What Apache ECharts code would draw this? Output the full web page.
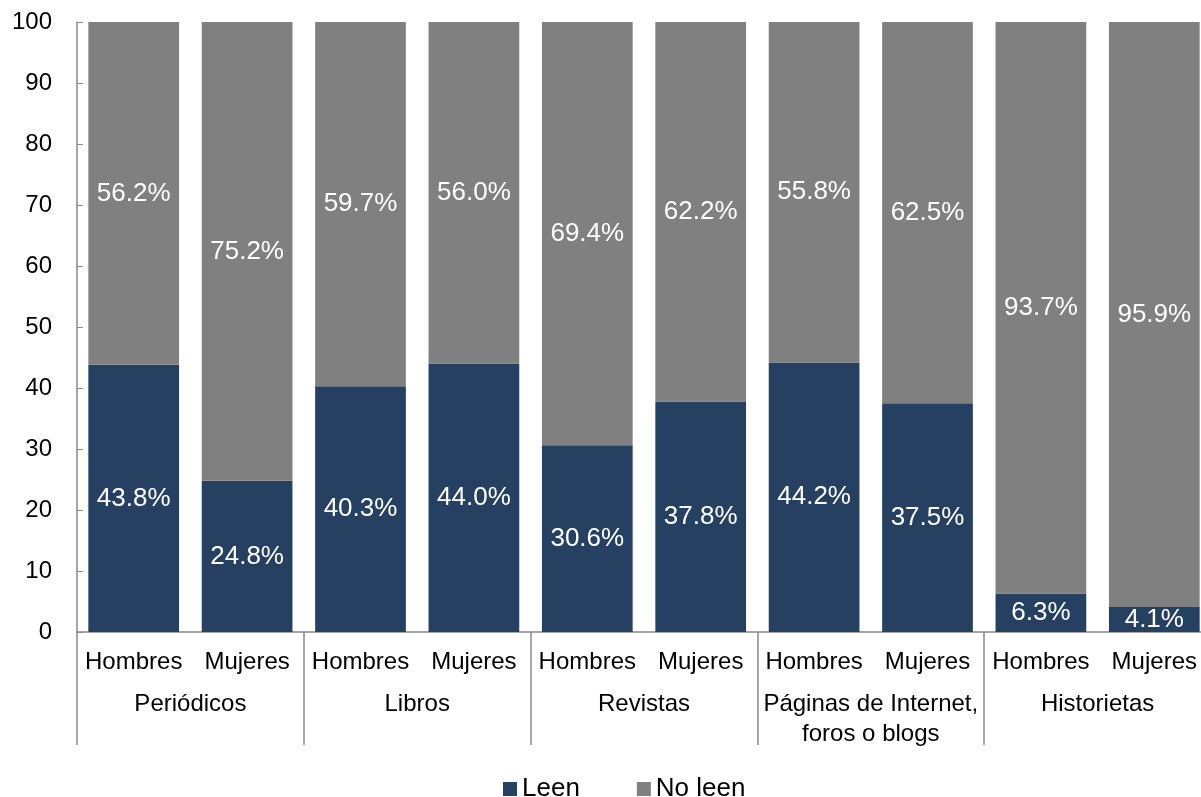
<!DOCTYPE html>
<html>
<head>
<meta charset="utf-8">
<script src="https://cdn.jsdelivr.net/npm/echarts@6/dist/echarts.min.js"></script>
<style>html,body{margin:0;padding:0;background:#fff}#c{width:1201px;height:797px}</style>
</head>
<body>
<div id="c"></div>
<script>
var genders = ['Hombres','Mujeres','Hombres','Mujeres','Hombres','Mujeres','Hombres','Mujeres','Hombres','Mujeres'];
var groups = ['Periódicos','Libros','Revistas','Páginas de Internet,\nforos o blogs','Historietas'];
var leen = [43.8, 24.8, 40.3, 44.0, 30.6, 37.8, 44.2, 37.5, 6.3, 4.1];
var noLeen = [56.2, 75.2, 59.7, 56.0, 69.4, 62.2, 55.8, 62.5, 93.7, 95.9];
var yTicks = {min: 0, max: 100, interval: 10};

var font = '"Liberation Sans", Arial, sans-serif';
var chart = echarts.init(document.getElementById('c'));
var lbl = {
  show: true, position: 'inside', color: '#fff', fontSize: 26, fontFamily: font,
  formatter: function(p){ return p.value.toFixed(1) + '%'; }
};
chart.setOption({
  animation: false,
  grid: {left: 77, top: 22, width: 1134, height: 610, containLabel: false, outerBoundsMode: 'none'},
  legend: {
    top: 771, left: 498, itemWidth: 14, itemHeight: 14, itemGap: 57, icon: 'rect',
    textStyle: {fontSize: 26, fontFamily: font, color: '#000'},
    data: ['Leen', 'No leen']
  },
  xAxis: [{
    type: 'category', data: genders, gridIndex: 0, position: 'bottom',
    axisLine: {show: true, lineStyle: {color: '#898989', width: 1.5}},
    axisTick: {show: false},
    axisLabel: {fontSize: 24, lineHeight: 24, fontFamily: font, color: '#000', margin: 18, interval: 0}
  }, {
    type: 'category', data: groups, gridIndex: 0, position: 'bottom',
    axisLine: {show: false},
    axisTick: {show: true, length: 113, lineStyle: {color: '#898989', width: 1.5}},
    axisLabel: {fontSize: 24, fontFamily: font, color: '#000', margin: 57, lineHeight: 30, interval: 0}
  }],
  yAxis: {
    type: 'value', min: yTicks.min, max: yTicks.max, interval: yTicks.interval,
    axisLine: {show: true, lineStyle: {color: '#898989', width: 1.5}},
    axisTick: {show: true, inside: true, length: 6, lineStyle: {color: '#898989'}},
    splitLine: {show: false},
    axisLabel: {fontSize: 24, fontFamily: font, color: '#000', margin: 25}
  },
  series: [{
    name: 'Leen', type: 'bar', stack: 's', data: leen, barWidth: '80%',
    itemStyle: {color: '#254061'}, label: lbl
  }, {
    name: 'No leen', type: 'bar', stack: 's', data: noLeen, barWidth: '80%',
    itemStyle: {color: '#808080'}, label: lbl
  }]
});
</script>
</body>
</html>
